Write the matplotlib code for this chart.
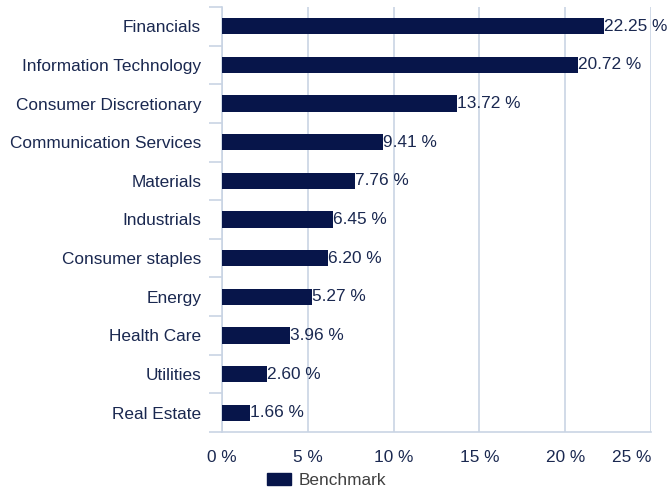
import matplotlib.pyplot as plt
from matplotlib.patches import Patch

plt.rcParams['font.family'] = ['Liberation Sans', 'DejaVu Sans']

# data
sectors = ["Financials", "Information Technology", "Consumer Discretionary",
           "Communication Services", "Materials", "Industrials",
           "Consumer staples", "Energy", "Health Care", "Utilities", "Real Estate"]
weights = [22.25, 20.72, 13.72, 9.41, 7.76, 6.45, 6.20, 5.27, 3.96, 2.60, 1.66]
xticks = [0, 5, 10, 15, 20, 25]

bar_color = "#07154a"
grid_color = "#c9d4e4"
text_color = "#1a2850"
fs = 12.4

fig = plt.figure(figsize=(6.69, 4.88), dpi=100)
ax = fig.add_axes([0.3318, 0.1148, 0.9731 - 0.3318, 0.9857 - 0.1148])

n = len(sectors)
pos = list(range(n))
bars = ax.barh(pos, weights, height=0.42, color=bar_color, zorder=3)
ax.set_ylim(n - 0.5, -0.5)
ax.set_xlim(0, 25)

# value labels
for b, w in zip(bars, weights):
    ax.text(w, b.get_y() + b.get_height() / 2, f"{w:.2f} %", va="center", ha="left",
            fontsize=fs, color=text_color, zorder=4)

# axes styling
for s in ["top", "right", "bottom"]:
    ax.spines[s].set_visible(False)
ax.spines["left"].set_color(grid_color)
ax.spines["left"].set_linewidth(1.2)

ax.set_xticks(xticks)
ax.set_xticklabels([f"{t} %" for t in xticks])
ax.tick_params(axis="x", length=0, pad=13, labelsize=fs, labelcolor=text_color)
ax.get_xticklabels()[-1].set_horizontalalignment("right")
ax.grid(axis="x", color=grid_color, linewidth=1.2, zorder=0)

ax.set_yticks(pos)
ax.set_yticklabels(sectors)
ax.tick_params(axis="y", which="major", length=0, pad=15, labelsize=fs, labelcolor=text_color)
ax.set_yticks([p - 0.5 for p in pos] + [n - 0.5], minor=True)
ax.tick_params(axis="y", which="minor", length=9.5, width=1.2, color=grid_color)
ax.axhline(n - 0.5, color=grid_color, linewidth=1.2, zorder=1, clip_on=False)

fig.legend(handles=[Patch(color=bar_color, label="Benchmark")], loc="lower center",
           bbox_to_anchor=(0.488, -0.032), frameon=False, fontsize=fs,
           handlelength=1.4, handleheight=0.75, handletextpad=0.45,
           labelcolor="#404040")

fig.savefig("out.png", dpi=100)
